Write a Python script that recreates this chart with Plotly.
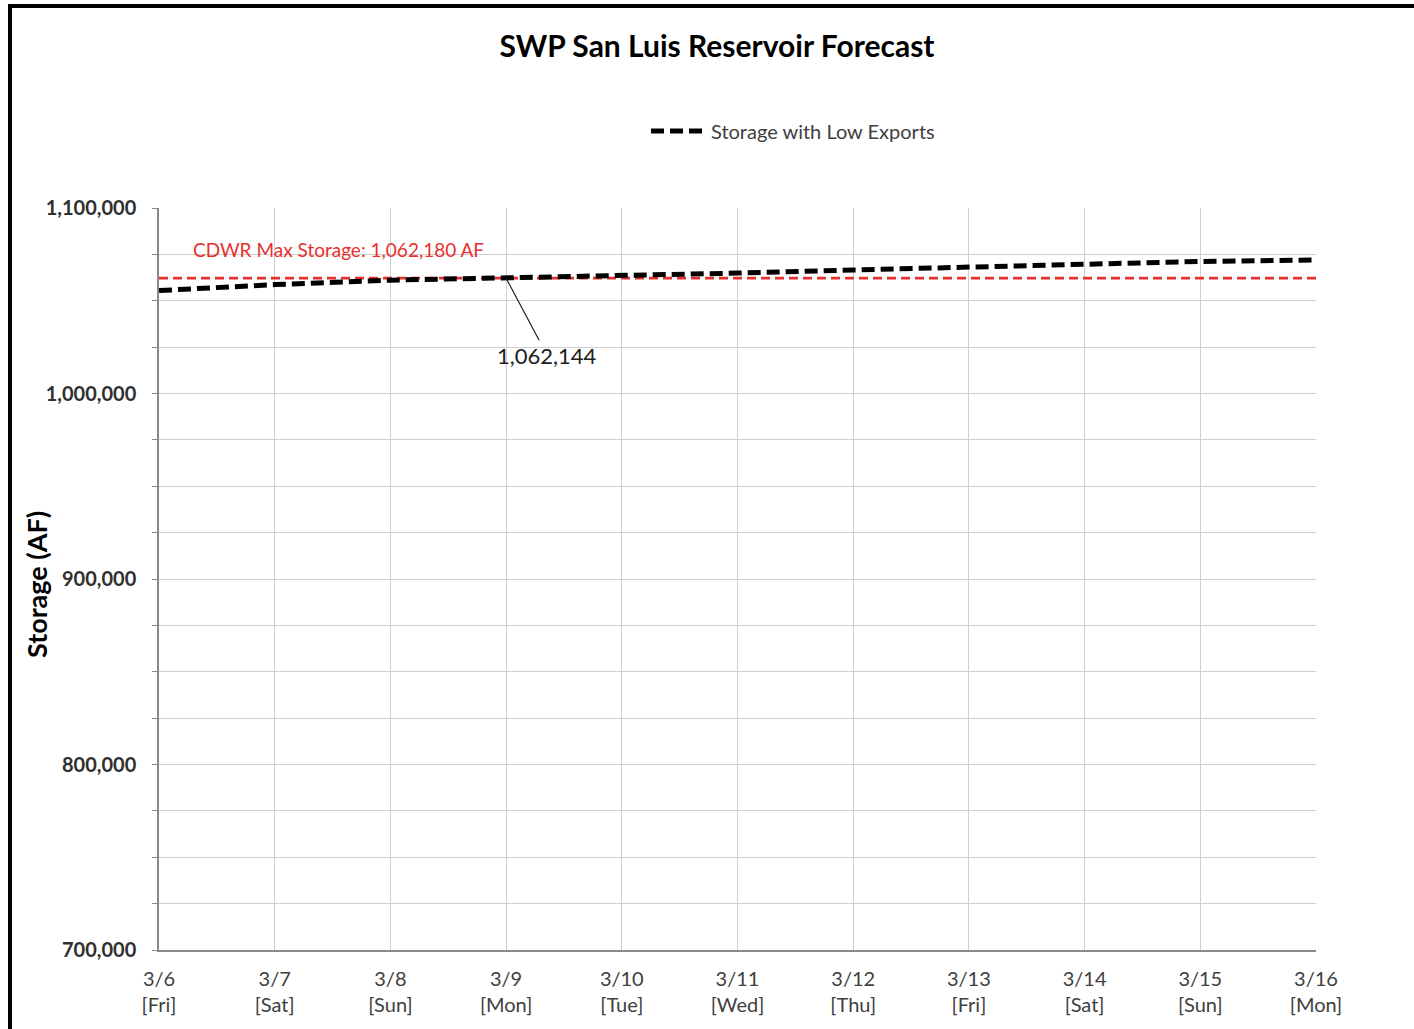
'''
SWP San Luis Reservoir forecast chart w/ Plotly
'''
import plotly.graph_objects as go

# forecast days and storage values (AF)
dates = ['2020-03-06', '2020-03-07', '2020-03-08', '2020-03-09', '2020-03-10', '2020-03-11',
         '2020-03-12', '2020-03-13', '2020-03-14', '2020-03-15', '2020-03-16']
day_labels = ['3/6<br>[Fri]', '3/7<br>[Sat]', '3/8<br>[Sun]', '3/9<br>[Mon]', '3/10<br>[Tue]',
              '3/11<br>[Wed]', '3/12<br>[Thu]', '3/13<br>[Fri]', '3/14<br>[Sat]', '3/15<br>[Sun]',
              '3/16<br>[Mon]']
storage_low_exports = [1055500, 1058700, 1061100, 1062144, 1063300, 1064900,
                       1066600, 1068300, 1069800, 1071200, 1072000]
max_storage = 1062180
callout_date = '2020-03-09'
callout_value = 1062144
y_ticks = [700000, 800000, 900000, 1000000, 1100000]

W, H = 1414, 1029
L, R, T, B = 159, 98, 208, 79
PW, PH = W - L - R, H - T - B


def px_x(p):
    return (p - L) / PW


def px_y(p):
    return (H - B - p) / PH


FONT = 'Lato'
GREY = '#404040'

fig = go.Figure()

fig.add_trace(go.Scatter(
    x=dates, y=[max_storage] * len(dates), mode='lines', showlegend=False,
    line=dict(color='#e8302e', width=2.8, dash='9px,5px'), hoverinfo='skip'))

fig.add_trace(go.Scatter(
    x=dates, y=storage_low_exports, mode='lines', name='Storage with Low Exports',
    line=dict(color='black', width=5, dash='13px,6px')))

fig.add_annotation(
    x=callout_date, y=callout_value, text='1,062,144', showarrow=True,
    arrowhead=0, arrowwidth=1.2, arrowcolor='#202020', ax=41, ay=77,
    font=dict(family=FONT, size=22, color='#202020'))

fig.add_annotation(
    x=dates[0], y=max_storage, xref='x', yref='y', text='CDWR Max Storage: 1,062,180 AF',
    showarrow=False, xanchor='left', yanchor='bottom', xshift=32, yshift=15,
    font=dict(family=FONT, size=19, color='#e8302e'))

fig.add_annotation(
    x=px_x(36), y=px_y(585), xref='paper', yref='paper', text='<b>Storage (AF)</b>',
    xanchor='center', yanchor='middle',
    textangle=-90, showarrow=False, font=dict(family=FONT, size=27, color='black'))

# outer frame, left and top edges
fig.add_shape(type='line', xref='paper', yref='paper', x0=px_x(10), x1=px_x(10),
              y0=px_y(6), y1=px_y(H + 5), line=dict(color='black', width=4))
fig.add_shape(type='line', xref='paper', yref='paper', x0=px_x(8), x1=px_x(W + 5),
              y0=px_y(6), y1=px_y(6), line=dict(color='black', width=4))

fig.update_layout(
    width=W, height=H,
    margin=dict(l=L, r=R, t=T, b=B),
    paper_bgcolor='white', plot_bgcolor='white',
    title=dict(text='<b>SWP San Luis Reservoir Forecast</b>', x=717 / W, xref='container',
               xanchor='center', y=1 - 46 / H, yanchor='middle',
               font=dict(family=FONT, size=30, color='black')),
    legend=dict(x=px_x(646), y=px_y(131), xanchor='left', yanchor='middle', itemwidth=55,
                font=dict(family=FONT, size=20, color=GREY), bgcolor='rgba(0,0,0,0)'),
    showlegend=True,
    xaxis=dict(range=[dates[0], dates[-1]], tickvals=dates, ticktext=day_labels,
               showgrid=True, gridcolor='#cfcfcf', gridwidth=1,
               showline=True, linecolor='#8a8a8a', linewidth=1.5, zeroline=False,
               ticks='', ticklabelstandoff=10,
               tickfont=dict(family=FONT, size=20, color=GREY)),
    yaxis=dict(range=[700000, 1100000], tickvals=y_ticks, tickformat=',d',
               showgrid=True, gridcolor='#cfcfcf', gridwidth=1,
               minor=dict(dtick=25000, showgrid=True, gridcolor='#cfcfcf', gridwidth=1,
                          ticks='outside', ticklen=5, tickcolor='#8a8a8a'),
               showline=True, linecolor='#8a8a8a', linewidth=1.5, zeroline=False,
               ticks='', ticklabelstandoff=17,
               tickfont=dict(family=FONT, size=20, color='#303030', weight='bold')),
    hovermode='closest'
)

# drop the page's default body margin so the figure sits at the window origin
fig.write_html('out.html', config={'displayModeBar': False},
               post_script="document.body.style.margin='0px';")
